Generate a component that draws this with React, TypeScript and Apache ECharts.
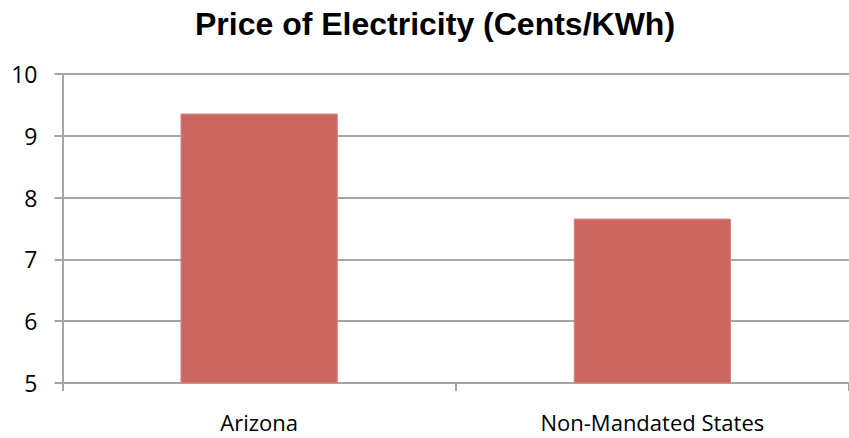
import React, { useEffect, useRef } from "react";
import * as echarts from "echarts";

const titleText = "Price of Electricity (Cents/KWh)";
const categories = ["Arizona", "Non-Mandated States"];
const priceValues = [9.36, 7.66];
const yMin = 5;
const yMax = 10;
const yInterval = 1;

export default function App() {
  const ref = useRef<HTMLDivElement>(null);
  useEffect(() => {
    if (!ref.current) return;
    const chart = echarts.init(ref.current, null, { renderer: "svg" });
    const gridColor = "#A6A6A6";
    chart.setOption({
      animation: false,
      backgroundColor: "#ffffff",
      graphic: [
        {
          type: "text",
          x: 435,
          y: 24,
          style: {
            text: titleText,
            font: 'bold 32px "Liberation Sans", Arial, sans-serif',
            fill: "#000000",
            textAlign: "center",
            textVerticalAlign: "middle",
          },
        },
      ],
      grid: { left: 62.5, right: -10.5, top: 74, bottom: 55, containLabel: false },
      xAxis: {
        type: "category",
        data: categories,
        axisLine: { show: true, lineStyle: { color: gridColor, width: 2 } },
        axisTick: { show: true, length: 8, lineStyle: { color: gridColor, width: 2 } },
        axisLabel: {
          margin: 28,
          color: "#000000",
          fontFamily: '"Open Sans", sans-serif',
          fontSize: 22,
        },
      },
      yAxis: {
        type: "value",
        min: yMin,
        max: yMax,
        interval: yInterval,
        axisLine: { show: true, lineStyle: { color: gridColor, width: 2 } },
        axisTick: { show: true, length: 8, lineStyle: { color: gridColor, width: 2 } },
        splitLine: { show: true, lineStyle: { color: gridColor, width: 2 } },
        axisLabel: {
          margin: 25,
          color: "#000000",
          fontFamily: '"Open Sans", sans-serif',
          fontSize: 23,
          padding: [6, 0, 0, 0],
        },
      },
      series: [
        {
          type: "bar",
          data: priceValues,
          barWidth: "40%",
          itemStyle: { color: "#CC6660", borderColor: "#D6857F", borderWidth: 1 },
        },
      ],
    });
    return () => chart.dispose();
  }, []);
  return (
    <div
      ref={ref}
      style={{ position: "fixed", left: 0, top: 0, width: 849, height: 438 }}
    />
  );
}
